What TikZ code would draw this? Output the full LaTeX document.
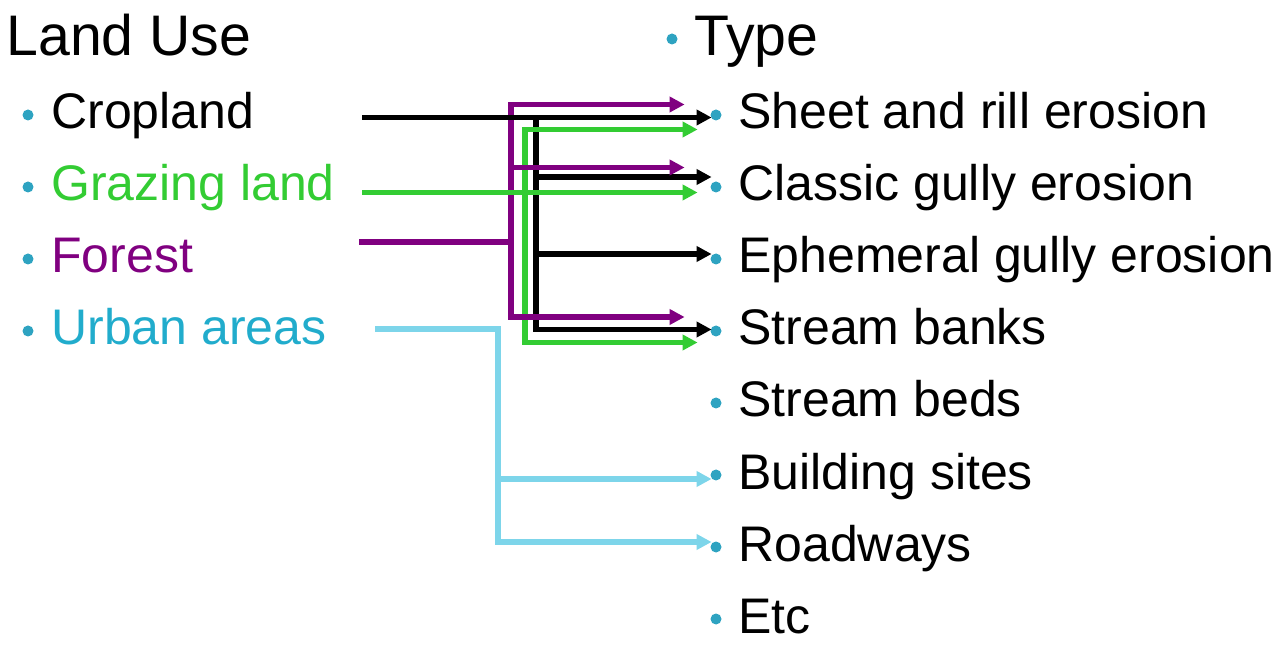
\documentclass[tikz,border=0pt]{standalone}
\usepackage{fontspec}
\setmainfont{Liberation Sans}
\usetikzlibrary{arrows.meta,calc}
\definecolor{dotblue}{RGB}{46,163,193}
\definecolor{grazegreen}{RGB}{51,204,51}
\definecolor{forestpurple}{RGB}{128,0,128}
\definecolor{urbancyan}{RGB}{33,172,204}
\definecolor{linkblue}{RGB}{125,213,234}
\begin{document}
\begin{tikzpicture}[x=.5pt,y=-.5pt,
  head/.style={anchor=base west,inner sep=0pt,font=\fontsize{28.6}{34}\selectfont},
  item/.style={anchor=base west,inner sep=0pt,font=\fontsize{25}{30}\selectfont},
  dot/.style={circle,fill=dotblue,inner sep=0pt,minimum size=5.5pt},
  trunk/.style={line width=2.6pt,line cap=rect},
  link/.style={line width=2.6pt,-{Triangle[length=7.5pt,width=7.5pt]}}]
\useasboundingbox (0,0) rectangle (1280,646);

% Two bullet lists: land uses on the left, erosion types on the right.
\node[head] (landuse) at (6,56) {Land Use};
\foreach \i/\txt/\col in {1/Cropland/black,2/Grazing land/grazegreen,
  3/Forest/forestpurple,4/Urban areas/urbancyan}{
  \node[dot] (lb\i) at (28,{115+72*(\i-1)}) {};
  \node[item,text=\col] (l\i) at (51,{129+72*(\i-1)}) {\txt};
}
\node[dot] (typedot) at (672,39) {};
\node[head] (type) at (694,56) {Type};
\foreach \i/\txt in {1/Sheet and rill erosion,2/Classic gully erosion,
  3/Ephemeral gully erosion,4/Stream banks,5/Stream beds,
  6/Building sites,7/Roadways,8/Etc}{
  \node[dot] (tb\i) at (716,{115+72*(\i-1)}) {};
  \node[item] (t\i) at (738,{129+72*(\i-1)}) {\txt};
}

% Start points of the connectors and their ends beside the bullets.
\coordinate (cropS) at (362,117.5);
\coordinate (grazS) at (362,192.5);
\coordinate (forS) at (362,242);
\coordinate (urbS) at (375,329);
\coordinate (cropJ) at (536,117.5);
\coordinate (grazJ) at (525,192.5);
\coordinate (forJ) at (511,242);
\coordinate (urbJ) at (498,329);
\foreach \i/\dy in {1/2.5,2/-10,3/-5,4/-1.5}
  \coordinate (cropE\i) at ($(tb\i.west)+(1.5,\dy)$);
\foreach \n/\i/\dy in {1/1/14.5,2/2/5.5,3/4/11.5}
  \coordinate (grazE\n) at ($(tb\i.west)+(-12.5,\dy)$);
\foreach \n/\i/\dy in {1/1/-10.5,2/2/-19.5,3/4/-14}
  \coordinate (forE\n) at ($(tb\i.west)+(-25.5,\dy)$);
\coordinate (urbE1) at ($(tb6.west)+(1.5,4)$);
\coordinate (urbE2) at ($(tb7.west)+(1.5,-5)$);

% Forest trunk first, its branches last, so they cross over the others.
\draw[trunk,forestpurple] (forS) -- (forJ) (forJ |- forE1) -- (forJ |- forE3);
\draw[link] (cropS) -- (cropE1);
\draw[trunk] (cropJ) -- (cropJ |- cropE4);
\foreach \i in {2,3,4}
  \draw[link] (cropJ |- cropE\i) -- (cropE\i);
\draw[trunk,grazegreen] (grazJ |- grazE1) -- (grazJ |- grazE3);
\draw[link,grazegreen] (grazS) -- (grazE2);
\foreach \i in {1,3}
  \draw[link,grazegreen] (grazJ |- grazE\i) -- (grazE\i);
\foreach \i in {1,2,3}
  \draw[link,forestpurple] (forJ |- forE\i) -- (forE\i);
\draw[link,linkblue] (urbS) -- (urbJ) |- (urbE2);
\draw[link,linkblue] (urbJ |- urbE1) -- (urbE1);
\end{tikzpicture}
\end{document}
